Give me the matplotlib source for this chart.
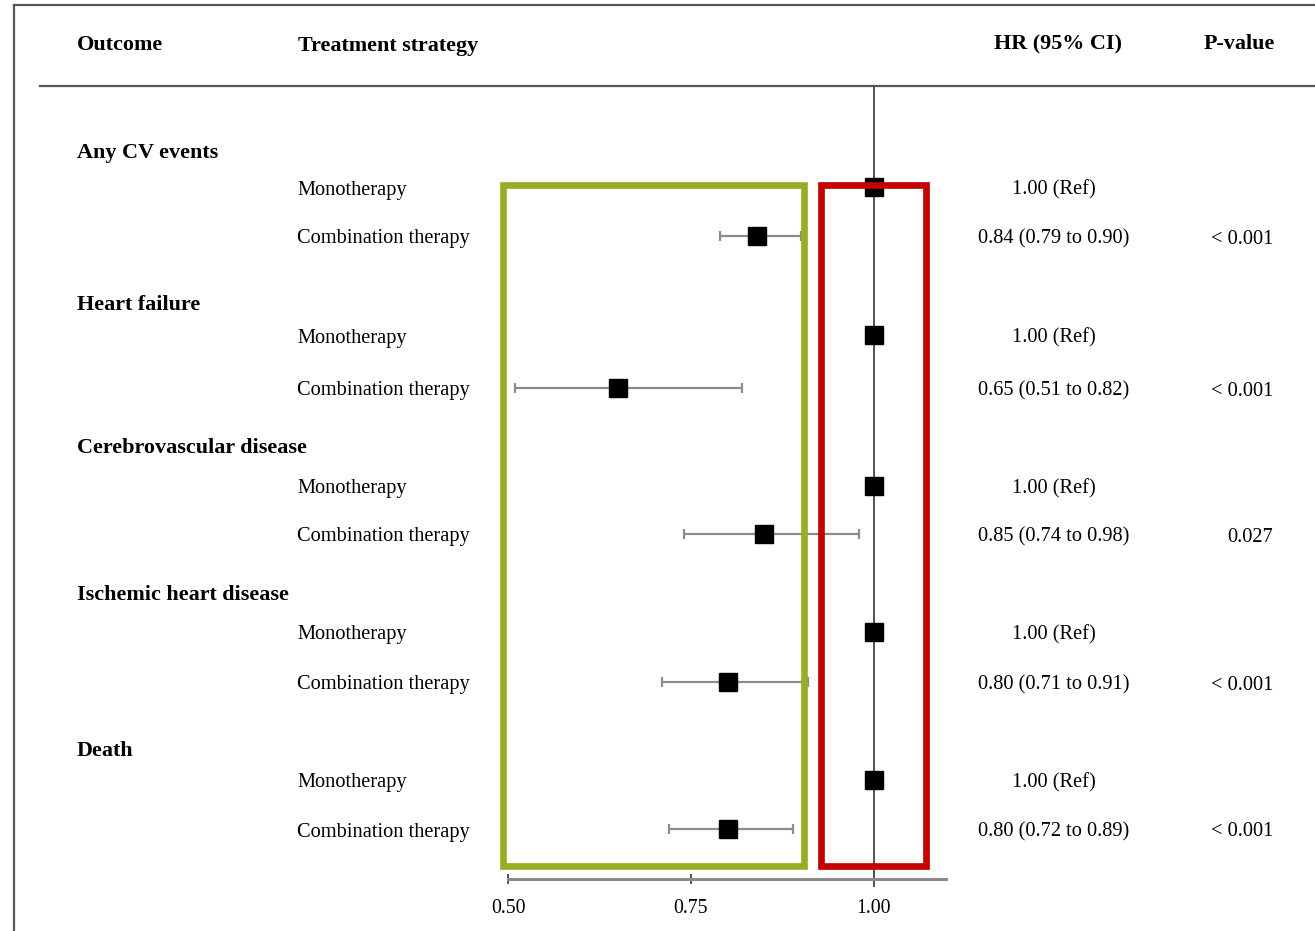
import matplotlib.pyplot as plt
from matplotlib.lines import Line2D
from matplotlib.patches import Rectangle
from matplotlib.transforms import blended_transform_factory

# hazard ratios, combination vs monotherapy (reference)
outcomes = ["Any CV events", "Heart failure", "Cerebrovascular disease",
            "Ischemic heart disease", "Death"]
hr = [0.84, 0.65, 0.85, 0.80, 0.80]
ci_lo = [0.79, 0.51, 0.74, 0.71, 0.72]
ci_hi = [0.90, 0.82, 0.98, 0.91, 0.89]
pvals = ["< 0.001", "< 0.001", "0.027", "< 0.001", "< 0.001"]
ref_hr = 1.00
xticks = [0.50, 0.75, 1.00]

# layout: pixel rows for group headings, monotherapy and combination rows
group_y = [150, 302, 445, 592, 748]
mono_y = [187, 335, 486, 632, 780]
combo_y = [236, 388, 534, 682, 829]
tdy = 3  # text baseline nudge

W, H = 1315, 931
plt.rcParams['font.family'] = ['Liberation Serif', 'DejaVu Serif']
fig = plt.figure(figsize=(W / 100, H / 100), dpi=100)

axis_y = 879
ax = fig.add_axes([508 / W, 1 - axis_y / H, (946 - 508) / W, axis_y / H])
ax.set_xlim(0.50, 0.50 + (946 - 508) / 732)
ax.set_ylim(axis_y, 0)
for s in ['top', 'left', 'right']:
    ax.spines[s].set_visible(False)
ax.spines['bottom'].set_color('#8a8a8a')
ax.spines['bottom'].set_linewidth(2.2)
ax.set_yticks([])
ax.set_xticks(xticks)
ax.set_xticklabels(['%.2f' % t for t in xticks], fontsize=14.3)
ax.tick_params(axis='x', direction='inout', length=7, width=1.4,
               color='#555555', pad=11)

fx = lambda px: px / W
tr = blended_transform_factory(fig.transFigure, ax.transData)

# frame and header rule
fig.add_artist(Line2D([fx(14), fx(14)], [0, 1 - 5 / H], color='#555555', lw=1.6))
fig.add_artist(Line2D([fx(14), 1], [1 - 5 / H, 1 - 5 / H], color='#555555', lw=1.6))
fig.add_artist(Line2D([fx(40), 1], [1 - 86 / H, 1 - 86 / H], color='#555555', lw=1.6))

# headers
hdr = dict(fontsize=15.9, fontweight='bold', va='center', transform=tr)
ax.text(fx(77), 42 + tdy, "Outcome", ha='left', **hdr)
ax.text(fx(298), 43 + tdy, "Treatment strategy", ha='left', **hdr)
ax.text(fx(1058), 41 + tdy, "HR (95% CI)", ha='center', **hdr)
ax.text(fx(1239), 41 + tdy, "P-value", ha='center', **hdr)

# reference line at HR = 1
ax.plot([ref_hr, ref_hr], [86, 886], color='#444444', lw=1.3, clip_on=False, zorder=1)

lab = dict(fontsize=14.7, va='center', transform=tr)
for i, name in enumerate(outcomes):
    gy, ym, yc = group_y[i], mono_y[i], combo_y[i]
    ax.text(fx(77), gy + tdy, name, ha='left', fontsize=15.9, fontweight='bold',
            va='center', transform=tr)
    ax.text(fx(297), ym + tdy, "Monotherapy", ha='left', **lab)
    ax.text(fx(297), yc + tdy, "Combination therapy", ha='left', **lab)

    # reference square
    ax.plot(ref_hr, ym, 's', color='black', ms=13, clip_on=False, zorder=3)
    # estimate with 95% CI
    ax.errorbar(hr[i], yc, xerr=[[hr[i] - ci_lo[i]], [ci_hi[i] - hr[i]]],
                fmt='none', ecolor='#8c8c8c', elinewidth=1.6, capsize=3.5,
                capthick=1.6, zorder=2)
    ax.plot(hr[i], yc, 's', color='black', ms=13, zorder=3)

    ax.text(fx(1054), ym + tdy, "%.2f (Ref)" % ref_hr, ha='center', **lab)
    ax.text(fx(1054), yc + tdy, "%.2f (%.2f to %.2f)" % (hr[i], ci_lo[i], ci_hi[i]),
            ha='center', **lab)
    ax.text(fx(1273), yc + tdy, pvals[i], ha='right', **lab)

# highlight boxes
x0 = lambda px: 0.50 + (px - 508) / 732
ax.add_patch(Rectangle((x0(503), 185), x0(804) - x0(503), 681, fill=False,
                       edgecolor='#9aab24', lw=4.8, clip_on=False, zorder=4))
ax.add_patch(Rectangle((x0(821), 185), x0(926) - x0(821), 681, fill=False,
                       edgecolor='#c40000', lw=4.8, clip_on=False, zorder=4))

fig.savefig('out.png', dpi=100)
